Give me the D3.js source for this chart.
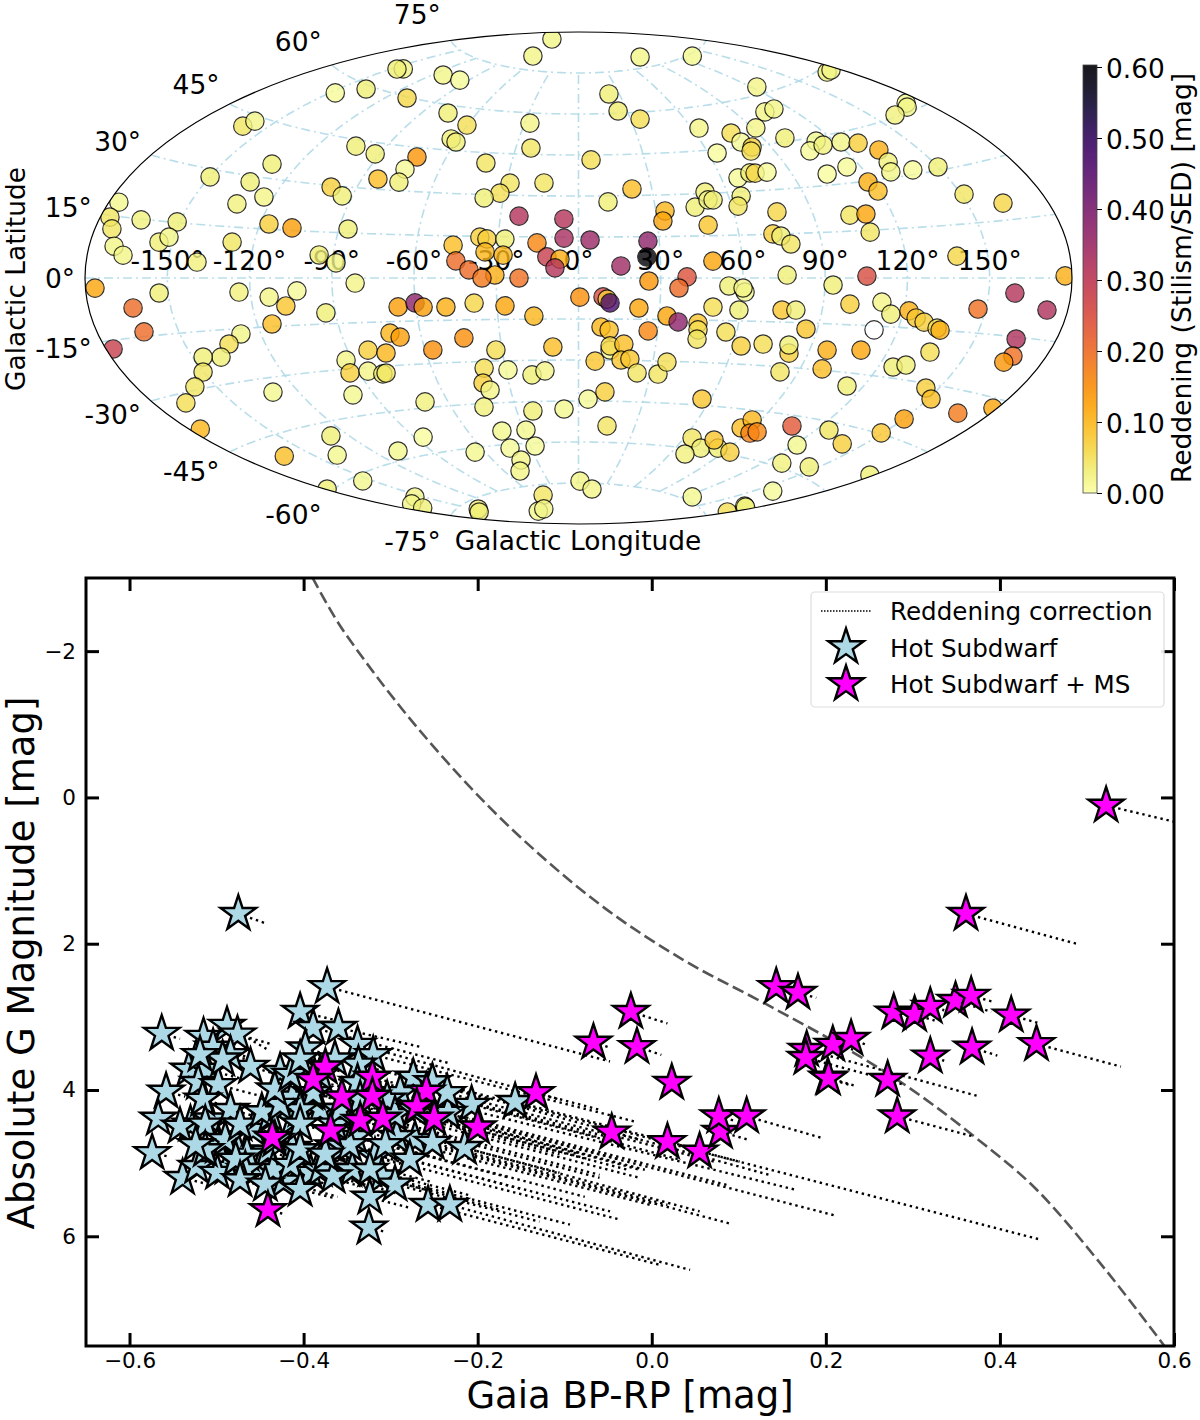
<!DOCTYPE html>
<html>
<head>
<meta charset="utf-8">
<script src="https://cdn.jsdelivr.net/npm/d3@7"></script>
<style>
  body { margin: 0; background: #fff; }
  text { font-family: "DejaVu Sans", sans-serif; fill: #000; }
</style>
</head>
<body>
<svg id="chart" width="1200" height="1420"></svg>
<script>
// 1. Data: sky map, one entry per star (lon and lat in degrees, reddening in mag, null = no value)
const mapLon = [-176.4,-176.5,-173.8,-170.9,-166.9,-164.6,-151.0,-154.9,-151.8,-139.5,-128.1,-149.8,-133.0,-132.3,-123.7,-130.5,-160.3,-158.7,-147.6,-137.6,-108.7,-144.2,-147.1,-103.4,-92.1,-73.0,-74.8,-74.3,-83.5,-100.2,-93.9,-116.7,-107.6,-86.6,-95.2,-88.7,
  -104.9,-69.4,86.1,132.6,-113.3,-96.1,22.5,24.4,35.3,-76.1,-60.3,-27.1,63.7,77.4,-63.1,-59.8,-22.8,78.4,64.0,-41.3,5.7,-28.5,-14.4,-31.8,-37.7,67.0,73.0,21.9,11.7,51.2,45.6,51.4,53.4,65.0,62.4,33.6,
  32.2,49.1,-22.9,-5.6,-5.4,4.3,25.8,25.1,15.5,49.2,-36.8,-34.1,-27.4,-46.4,-34.4,-27.7,-15.4,-11.6,-6.8,-8.6,-44.9,-40.0,-30.5,-35.2,-21.7,25.7,39.6,54.9,
  123.0,105.5,112.0,91.6,81.6,79.7,100.0,172.0,175.9,172.8,170.2,160.0,112.1,105.2,113.2,122.2,128.7,133.9,132.5,130.0,139.2,149.9,114.4,104.2,75.1,80.3,118.0,119.4,151.1,163.3,76.6,72.7,75.5,78.6,103.8,110.0,109.0,138.7,76.1,105.2,92.9,177.5,
  -176.5,-153.3,-124.1,-163.8,-162.8,-177.4,-127.4,-133.6,-139.4,-146.1,-150.2,-158.2,-168.0,-175.9,-113.3,-102.9,-107.7,-114.5,-93.5,-81.5,-66.5,-60.1,-57.3,-71.5,-68.1,-82.1,-75.6,-92.4,-93.7,-86.1,-80.8,-79.3,-98.9,-130.2,-128.1,-139.6,-107.6,-162.5,-154.8,-179.2,-154.5,-168.9,-172.5,
  -48.9,-38.4,-27.1,-16.6,-57.0,-43.9,-32.4,-10.0,-38.7,-41.0,-39.0,-44.8,-29.1,-19.5,-13.9,-70.3,-85.7,-22.2,-7.0,-41.9,-28.7,-27.0,-43.0,-66.1,-41.0,-47.9,1.5,16.0,-48.0,-147.6,-156.3,-96.1,-77.8,0.5,9.0,10.5,11.6,36.7,22.3,32.9,
  37.3,44.8,45.2,45.5,26.4,8.5,11.6,12.4,12.3,17.6,17.1,20.6,6.7,24.4,33.2,35.7,11.8,4.4,15.2,56.2,55.9,63.1,49.6,60.9,60.1,59.3,64.4,74.6,69.1,84.0,77.1,93.3,84.5,86.0,91.4,126.1,178.6,172.8,
  99.8,111.4,115.6,122.0,125.3,128.7,134.3,135.7,75.2,80.3,85.7,111.2,136.0,96.7,109.6,71.3,82.6,81.3,98.7,82.7,125.7,130.1,113.4,144.9,151.2,147.1,159.5,172.4,165.2,167.7,165.9,167.8,178.4,150.2,149.2,107.1,94.2,125.7,140.5,121.4,129.4,145.8,159.1,175.2,178.5];
const mapLat = [18.3,14.6,11.9,7.8,5.7,14.8,15.2,9.5,11.0,4.5,10.6,28.0,28.3,21.7,24.5,34.1,41.8,43.7,55.7,59.0,59.7,66.3,65.7,43.0,41.4,41.8,37.4,32.9,33.4,29.5,27.0,16.6,15.8,16.3,7.5,5.0,
  86.0,79.8,78.5,74.4,68.3,68.1,67.1,60.8,57.5,57.4,54.1,56.3,52.8,50.0,48.9,48.0,47.3,46.7,43.8,41.3,43.2,34.4,34.7,30.7,28.8,34.8,36.2,32.4,27.8,30.5,25.3,27.7,27.6,28.5,25.1,24.2,
  20.6,18.8,22.5,21.6,14.6,13.9,13.4,7.6,4.4,6.0,14.7,14.1,14.1,11.7,9.4,8.3,12.8,7.7,6.9,3.7,6.1,2.9,1.1,0.0,0.0,-1.1,0.4,-2.8,
  62.1,54.9,55.2,50.6,44.7,43.4,46.2,58.9,58.8,46.9,46.1,45.5,43.8,41.2,42.3,42.3,41.1,38.2,34.5,31.7,31.3,30.9,34.9,33.5,36.0,36.0,29.7,26.7,22.9,19.3,22.5,15.1,14.3,11.5,20.1,20.1,14.4,6.2,1.0,0.6,-2.3,0.5,
  -2.4,-4.0,-4.2,-7.6,-13.8,-17.0,-16.6,-19.2,-22.6,-22.0,-25.9,-29.2,-32.4,-38.7,-5.9,-4.1,-8.8,-14.2,-11.4,-1.7,-10.0,-8.7,-10.2,-18.9,-20.4,-24.3,-25.6,-27.1,-31.3,-31.2,-32.5,-32.3,-38.3,-34.2,-49.0,-54.1,-57.2,-50.2,-61.5,-59.3,-69.1,-69.7,-71.3,
  -10.3,-9.0,-10.1,-13.9,-25.3,-21.4,-26.0,-25.2,-32.4,-37.7,-40.3,-46.2,-33.3,-35.3,-33.9,-43.0,-54.4,-48.4,-47.9,-55.1,-55.2,-61.1,-61.3,-61.5,-65.8,-69.6,-74.3,-77.1,-78.7,-77.3,-77.8,-83.4,-83.2,-7.0,-6.9,-7.7,-9.1,-3.6,-10.9,-13.7,
  -15.8,-16.1,-18.5,-21.8,-19.2,-17.9,-19.0,-26.3,-24.8,-24.1,-29.9,-29.5,-30.4,-34.5,-34.7,-30.3,-41.6,-44.3,-54.0,-42.8,-19.0,-23.7,-10.3,-4.9,-3.5,-11.2,-56.4,-59.4,-62.0,-58.6,-56.2,-59.2,-51.2,-48.2,-52.4,-73.8,-72.4,-70.0,
  -8.4,-7.5,-11.1,-9.9,-11.9,-13.0,-14.5,-15.0,-10.9,-10.8,-17.0,-16.2,-21.4,-23.5,-22.7,-22.7,-25.3,-22.6,-29.6,-31.7,-26.8,-25.8,-34.0,-31.2,-33.7,-8.5,-3.9,-7.8,-15.5,-19.7,-21.5,-35.4,-32.2,-40.0,-44.7,-48.2,-51.7,-47.3,-49.9,-53.2,-58.8,-57.5,-65.2,-70.0,-53.6];
const mapRed = [.015,.04,.04,.02,.02,.025,.03,.03,.02,.025,.04,.03,.03,.025,.02,.03,.04,.02,.01,.03,.06,.02,.03,.03,.03,.14,.01,.03,.09,.07,.03,.07,.13,.03,.03,.02,
  .02,.02,.02,.015,.02,.01,.03,.035,.05,.03,.05,.02,.02,.05,.03,.03,.04,.01,.005,.04,.05,.04,.04,.05,.03,.01,.03,.09,.03,.03,.03,.02,.03,.03,.04,.1,
  .12,.08,.31,.31,.33,.35,.37,.6,.34,.12,.07,.07,.03,.09,.1,.1,.16,.28,.11,.31,.2,.2,.11,.18,.19,.14,.24,.03,
  .02,.02,.02,.02,.07,.05,.03,.03,.02,.015,.02,.025,.015,.01,.025,.02,.07,.11,.025,.02,.01,.03,.01,.005,.06,.01,.11,.09,.04,.06,.06,.07,.03,.04,.04,.12,.04,.06,.03,.25,.03,.11,
  .12,.03,.025,.2,.2,.28,.02,.05,.03,.03,.04,.04,.05,.1,.02,.01,.08,.09,.03,.02,.13,.37,.13,.1,.13,.07,.1,.02,.07,.02,.03,.04,.015,.015,.03,.015,.015,.09,.015,.03,.02,.02,.03,
  .11,.06,.12,.1,.15,.15,.05,.09,.05,.07,.02,.025,.01,.03,.02,.025,.005,.03,.015,.015,.015,.01,.01,.015,.02,.02,.02,.02,.04,.03,.03,.015,.02,.15,.25,.07,.47,.2,.12,.12,
  .37,.08,.05,.04,.16,.1,.09,.01,.06,.09,.08,.08,.08,.04,.04,.05,.07,.01,.04,.08,.05,.07,.05,.015,.02,.03,.04,.03,.025,.03,.08,.07,.09,.1,.17,.015,.05,.02,
  .07,.02,.03,.11,.08,.07,.05,.11,.08,.03,.08,null,.05,.11,.12,.05,.07,.03,.09,.04,.03,.03,.03,.07,.09,.19,.31,.32,.32,.19,.14,.18,.12,.13,.08,.23,.16,.04,.07,.015,.025,.03,.01,.03,.03];

const lonTicks = [-150, -120, -90, -60, -30, 0, 30, 60, 90, 120, 150];
const latTicks = [-75, -60, -45, -30, -15, 0, 15, 30, 45, 60, 75];
const colorTicks = [0, 0.1, 0.2, 0.3, 0.4, 0.5, 0.6];

// 2. Data: colour-magnitude diagram (corrected position, then position before correction)
const hotBp = [-0.373,-0.475,-0.563,-0.488,-0.515,-0.476,-0.504,-0.404,-0.389,-0.360,-0.398,-0.461,-0.484,-0.532,-0.511,-0.521,-0.498,-0.427,-0.558,-0.567,-0.574,-0.530,-0.507,-0.484,-0.413,-0.381,-0.392,-0.539,-0.523,-0.488,-0.475,-0.499,-0.450,-0.458,-0.413,-0.383,-0.347,-0.423,-0.366,-0.412,-0.441,-0.516,-0.542,-0.499,-0.465,-0.435,-0.392,-0.355,-0.338,-0.320,-0.274,-0.252,-0.207,-0.157,-0.234,-0.272,-0.252,-0.215,-0.318,-0.344,-0.310,-0.295,-0.324,-0.257,-0.232,-0.325,-0.381,-0.366,-0.341,-0.293,-0.337,-0.338,-0.389,-0.404,-0.235,-0.289,-0.304,
  -0.493,-0.513,-0.490,-0.473,-0.438,-0.448,-0.427,-0.404,-0.433,-0.467,-0.478,-0.513,-0.415,-0.404,-0.364,-0.347,-0.324,-0.375,-0.358,-0.335,-0.295,-0.272,-0.306,-0.278,-0.433,-0.415,-0.381,-0.364,-0.404,-0.473,-0.444,-0.404,-0.524,-0.519];
const hotG = [2.59,1.59,3.23,3.12,3.27,3.24,3.42,2.93,3.15,3.15,3.43,3.68,3.52,3.72,3.72,3.90,3.93,3.75,4.02,4.39,4.86,4.47,4.40,4.27,4.10,4.27,4.04,5.20,5.05,5.06,4.84,4.77,5.05,4.54,4.79,5.05,5.09,5.25,4.77,4.40,4.84,4.13,4.50,5.13,4.88,5.09,5.13,4.77,3.38,3.52,3.83,3.89,4.20,4.16,4.31,4.68,4.72,4.79,4.91,5.09,5.18,5.29,5.47,5.57,5.57,5.88,5.09,5.18,4.64,4.64,3.65,3.90,4.04,4.27,4.04,4.04,4.13,
  3.58,4.47,4.68,4.47,4.34,4.30,4.20,4.47,4.68,5.09,4.95,4.82,5.02,4.82,4.47,4.75,5.09,4.88,4.27,4.13,4.34,4.27,4.75,4.95,3.99,3.79,3.79,3.58,3.58,5.23,5.29,5.36,4.75,3.52];
const hotBpObs = [-0.048,-0.444,-0.542,-0.441,-0.478,-0.438,-0.461,-0.358,-0.234,-0.266,-0.335,-0.433,-0.448,-0.501,-0.473,-0.490,-0.450,-0.381,-0.536,-0.542,-0.555,-0.490,-0.461,-0.433,-0.352,-0.306,-0.318,-0.513,-0.484,-0.444,-0.427,-0.461,-0.398,-0.404,-0.347,-0.312,-0.255,-0.361,-0.289,-0.335,-0.381,-0.478,-0.513,-0.461,-0.415,-0.375,-0.324,-0.266,-0.106,-0.020,0.135,0.101,0.032,0.055,0.090,0.091,0.018,0.055,-0.037,-0.174,-0.094,-0.129,-0.278,0.009,0.044,-0.306,-0.301,-0.289,-0.243,0.009,-0.186,-0.232,-0.312,-0.347,0.072,0.164,0.212,
  -0.459,-0.479,-0.456,-0.439,-0.398,-0.408,-0.387,-0.364,-0.393,-0.427,-0.444,-0.479,-0.375,-0.364,-0.002,-0.048,-0.209,-0.255,-0.060,-0.028,-0.014,-0.008,-0.077,-0.151,-0.393,-0.375,-0.341,-0.324,-0.364,-0.433,-0.404,-0.364,-0.490,-0.485];
const hotGObs = [3.61,1.72,3.30,3.45,3.38,3.37,3.56,3.06,3.63,3.41,3.64,3.78,3.64,3.82,3.84,3.99,4.08,3.89,4.09,4.47,4.91,4.60,4.54,4.43,4.30,4.50,4.27,5.28,5.17,5.20,4.99,4.90,5.21,4.71,4.99,5.27,5.38,5.46,5.01,4.64,5.03,4.25,4.58,5.25,5.03,5.28,5.35,5.05,4.13,4.43,5.16,4.98,4.95,4.82,5.31,5.83,5.57,5.66,5.77,5.64,5.84,5.80,5.61,6.39,6.46,5.94,5.34,5.42,4.94,5.57,4.13,4.23,4.27,4.45,4.98,5.36,5.72,
  3.69,4.58,4.79,4.58,4.46,4.42,4.32,4.59,4.80,5.21,5.06,4.93,5.14,4.94,5.57,5.66,5.44,5.25,5.20,5.09,5.20,5.09,5.46,5.35,4.11,3.91,3.91,3.70,3.70,5.35,5.41,5.48,4.86,3.63];

const msBp = [0.522,0.361,-0.024,-0.067,-0.017,0.023,-0.046,0.018,0.055,0.079,0.077,0.109,0.143,0.168,0.178,0.177,0.208,0.229,0.202,0.203,0.278,0.302,0.320,0.349,0.367,0.413,0.442,0.368,0.320,0.271,0.282,-0.375,-0.389,-0.356,-0.321,-0.321,-0.259,-0.270,-0.250,-0.200,-0.133,-0.369,-0.335,-0.309,-0.436,-0.441];
const msG = [0.11,1.59,2.93,3.35,3.41,3.90,4.58,4.71,4.84,4.57,4.36,4.36,2.59,2.67,3.45,3.56,3.38,3.30,3.83,3.84,2.94,2.97,2.86,2.78,2.71,2.98,3.37,3.42,3.54,3.86,4.36,3.69,3.86,4.10,3.83,4.09,4.02,4.23,4.39,4.51,4.04,4.56,4.42,4.39,4.65,5.64];
const msBpObs = [0.617,0.491,0.018,-0.048,0.011,0.034,-0.014,0.044,0.448,0.111,0.095,0.194,0.158,0.189,0.374,0.271,0.239,0.246,0.233,0.227,0.290,0.325,0.336,0.390,0.394,0.443,0.539,0.397,0.336,0.290,0.371,-0.266,-0.209,-0.106,-0.037,-0.014,-0.060,-0.037,-0.071,-0.083,-0.060,-0.163,-0.106,-0.060,-0.415,-0.421];
const msGObs = [0.38,2.01,3.09,3.42,3.52,3.94,4.68,4.79,6.05,4.68,4.42,4.65,2.63,2.74,4.08,3.86,3.47,3.38,3.94,3.93,3.00,3.05,2.91,2.93,2.80,3.08,3.68,3.53,3.60,3.93,4.64,4.04,4.40,4.88,4.68,5.09,4.65,4.95,4.95,4.88,4.27,5.20,5.13,5.16,4.72,5.70];

const curveBp = [-0.390,-0.363,-0.329,-0.289,-0.243,-0.186,-0.129,-0.060,0.036,0.132,0.239,0.277,0.371,0.442,0.514,0.589];
const curveG = [-3.01,-2.44,-1.86,-1.24,-0.59,0.14,0.78,1.46,2.22,2.83,3.54,3.82,4.64,5.36,6.35,7.50];

const bpTicks = [-0.6, -0.4, -0.2, 0, 0.2, 0.4, 0.6];
const gTicks = [-2, 0, 2, 4, 6];
const legendLabels = ["Reddening correction", "Hot Subdwarf", "Hot Subdwarf + MS"];

const svg = d3.select("#chart");
const rad = Math.PI / 180;

// 3. Sky map (Aitoff)
const mapX = d3.scaleLinear().domain([-Math.PI, Math.PI]).range([85, 1072]);
const mapY = d3.scaleLinear().domain([-Math.PI / 2, Math.PI / 2]).range([524, 32]);
const colorScale = d3.scaleSequential(t => d3.interpolateInferno(1 - t)).domain([0, 0.6]);

function aitoff(lon, lat) {
  const l = lon * rad, p = lat * rad;
  const a = Math.acos(Math.cos(p) * Math.cos(l / 2));
  const s = a < 1e-9 ? 1 : Math.sin(a) / a;
  return [mapX(2 * Math.cos(p) * Math.sin(l / 2) / s), mapY(Math.sin(p) / s)];
}

svg.append("clipPath").attr("id", "mapClip").append("ellipse")
  .attr("cx", mapX(0)).attr("cy", mapY(0))
  .attr("rx", (mapX.range()[1] - mapX.range()[0]) / 2)
  .attr("ry", (mapY.range()[0] - mapY.range()[1]) / 2);

const gridLine = d3.line();
const gridGroup = svg.append("g").attr("clip-path", "url(#mapClip)")
  .attr("fill", "none").attr("stroke", "#add8e6").attr("stroke-opacity", 0.85)
  .attr("stroke-width", 1.6).attr("stroke-dasharray", "9 4 2 4");
latTicks.forEach(lat => {
  gridGroup.append("path").attr("d", gridLine(d3.range(-180, 181, 3).map(lon => aitoff(lon, lat))));
});
lonTicks.forEach(lon => {
  gridGroup.append("path").attr("d", gridLine(d3.range(-75, 76, 3).map(lat => aitoff(lon, lat))));
});

// lon labels sit under the points, as in the original
svg.append("g").selectAll("text").data(lonTicks).join("text")
  .attr("x", d => mapX(d * rad))
  .attr("y", 270)
  .attr("text-anchor", "middle")
  .attr("font-size", 26.5)
  .text(d => d + "°");

svg.append("g").selectAll("text").data(latTicks).join("text")
  .attr("x", d => aitoff(-180, d)[0] - 10)
  .attr("y", d => mapY(0) - 1.11 * (mapY(0) - aitoff(-180, d)[1]))
  .attr("dy", "0.36em")
  .attr("text-anchor", "end")
  .attr("font-size", 26.5)
  .text(d => d + "°");

svg.append("g").attr("clip-path", "url(#mapClip)")
  .selectAll("circle").data(mapLon).join("circle")
  .attr("cx", (d, i) => aitoff(d, mapLat[i])[0])
  .attr("cy", (d, i) => aitoff(d, mapLat[i])[1])
  .attr("r", 9.2)
  .attr("fill", (d, i) => mapRed[i] === null ? "#fff" : colorScale(mapRed[i]))
  .attr("stroke", "#000")
  .attr("stroke-width", 1.2)
  .attr("opacity", 0.8);

svg.append("ellipse")
  .attr("cx", mapX(0)).attr("cy", mapY(0))
  .attr("rx", (mapX.range()[1] - mapX.range()[0]) / 2)
  .attr("ry", (mapY.range()[0] - mapY.range()[1]) / 2)
  .attr("fill", "none").attr("stroke", "#000").attr("stroke-width", 1.2);

svg.append("text").attr("x", 578).attr("y", 550).attr("text-anchor", "middle")
  .attr("font-size", 26.4).text("Galactic Longitude");
svg.append("text").attr("transform", "translate(25,279) rotate(-90)").attr("text-anchor", "middle")
  .attr("font-size", 26.4).text("Galactic Latitude");

// 4. Colour bar
const barY = d3.scaleLinear().domain([0, 0.6]).range([493, 67]);
const grad = svg.append("defs").append("linearGradient").attr("id", "barGrad")
  .attr("x1", 0).attr("y1", 1).attr("x2", 0).attr("y2", 0);
d3.range(0, 1.01, 0.05).forEach(t => {
  grad.append("stop").attr("offset", t).attr("stop-color", colorScale(t * 0.6));
});
svg.append("rect").attr("x", 1083).attr("y", 65).attr("width", 14).attr("height", 428)
  .attr("fill", "url(#barGrad)").attr("opacity", 0.9)
  .attr("stroke", "#333").attr("stroke-width", 0.8);
const barAxis = d3.axisRight(barY).tickValues(colorTicks).tickFormat(d3.format(".2f")).tickSize(5).tickPadding(4);
svg.append("g").attr("transform", "translate(1097,0)").call(barAxis)
  .call(g => g.select(".domain").remove())
  .call(g => g.selectAll("text").attr("font-size", 26.4).attr("font-family", "DejaVu Sans").attr("y", 2));
svg.append("text").attr("transform", "translate(1191,278) rotate(-90)").attr("text-anchor", "middle")
  .attr("font-size", 26.5).text("Reddening (Stilism/SED) [mag]");

// 5. Colour-magnitude diagram
const left = 86, right = 1174, top_ = 578, bottom = 1346;
const x = d3.scaleLinear().domain([-0.65, 0.6]).range([left, right]);
const y = d3.scaleLinear().domain([7.5, -3]).range([bottom, top_]);

svg.append("clipPath").attr("id", "cmdClip").append("rect")
  .attr("x", left).attr("y", top_).attr("width", right - left).attr("height", bottom - top_);
const plot = svg.append("g").attr("clip-path", "url(#cmdClip)");

plot.append("path")
  .attr("d", d3.line().x(d => x(d)).y((d, i) => y(curveG[i])).curve(d3.curveMonotoneX)(curveBp))
  .attr("fill", "none").attr("stroke", "#555").attr("stroke-width", 2.6).attr("stroke-dasharray", "12 5");

function drawTracks(bp, g, bpObs, gObs) {
  plot.append("g").selectAll("line").data(bp).join("line")
    .attr("x1", d => x(d))
    .attr("y1", (d, i) => y(g[i]))
    .attr("x2", (d, i) => x(bpObs[i]))
    .attr("y2", (d, i) => y(gObs[i]))
    .attr("stroke", "#000").attr("stroke-width", 2.4).attr("stroke-dasharray", "2.4 3.8");
}
drawTracks(hotBp, hotG, hotBpObs, hotGObs);
drawTracks(msBp, msG, msBpObs, msGObs);

const star = d3.symbol().type(d3.symbolStar).size(390);
function drawStars(bp, g, fill) {
  plot.append("g").selectAll("path").data(bp).join("path")
    .attr("d", star)
    .attr("transform", (d, i) => `translate(${x(d)},${y(g[i])})`)
    .attr("fill", fill).attr("stroke", "#000").attr("stroke-width", 2.4);
}
drawStars(hotBp, hotG, "#add8e6");
drawStars(msBp, msG, "#ff00ff");

// axes on all four sides, ticks pointing in
const tickLen = 13;
function styleAxis(g) {
  g.select(".domain").remove();
  g.selectAll("line").attr("stroke", "#000").attr("stroke-width", 3);
  g.selectAll("text").attr("font-size", 21.5).attr("font-family", "DejaVu Sans");
}
svg.append("g").attr("transform", `translate(0,${bottom})`)
  .call(d3.axisBottom(x).tickValues(bpTicks).tickFormat(d3.format(".1f")).tickSize(-tickLen).tickPadding(7)).call(styleAxis);
svg.append("g").attr("transform", `translate(0,${top_})`)
  .call(d3.axisTop(x).tickValues(bpTicks).tickFormat("").tickSize(-tickLen)).call(styleAxis);
svg.append("g").attr("transform", `translate(${left},0)`)
  .call(d3.axisLeft(y).tickValues(gTicks).tickSize(-tickLen).tickPadding(10)).call(styleAxis);
svg.append("g").attr("transform", `translate(${right},0)`)
  .call(d3.axisRight(y).tickValues(gTicks).tickFormat("").tickSize(-tickLen)).call(styleAxis);
svg.append("rect").attr("x", left).attr("y", top_).attr("width", right - left).attr("height", bottom - top_)
  .attr("fill", "none").attr("stroke", "#000").attr("stroke-width", 3);

svg.append("text").attr("x", 630).attr("y", 1408).attr("text-anchor", "middle")
  .attr("font-size", 37).text("Gaia BP-RP [mag]");
svg.append("text").attr("transform", "translate(34,963) rotate(-90)").attr("text-anchor", "middle")
  .attr("font-size", 37).text("Absolute G Magnitude [mag]");

// 6. Legend
const legend = svg.append("g");
legend.append("rect").attr("x", 811).attr("y", 592).attr("width", 353).attr("height", 115).attr("rx", 4)
  .attr("fill", "#fff").attr("fill-opacity", 0.9).attr("stroke", "#ddd").attr("stroke-width", 1.2);
legend.selectAll("text").data(legendLabels).join("text")
  .attr("x", 890).attr("y", (d, i) => 620 + i * 36.5).attr("font-size", 24.6).text(d => d);
legend.append("line").attr("x1", 821).attr("x2", 871).attr("y1", 611).attr("y2", 611)
  .attr("stroke", "#000").attr("stroke-width", 1.5).attr("stroke-dasharray", "1.5 1.5");
legend.selectAll("path").data(["#add8e6", "#ff00ff"]).join("path")
  .attr("d", star)
  .attr("transform", (d, i) => `translate(846,${647 + i * 37})`)
  .attr("fill", d => d).attr("stroke", "#000").attr("stroke-width", 2.4);
</script>
</body>
</html>
